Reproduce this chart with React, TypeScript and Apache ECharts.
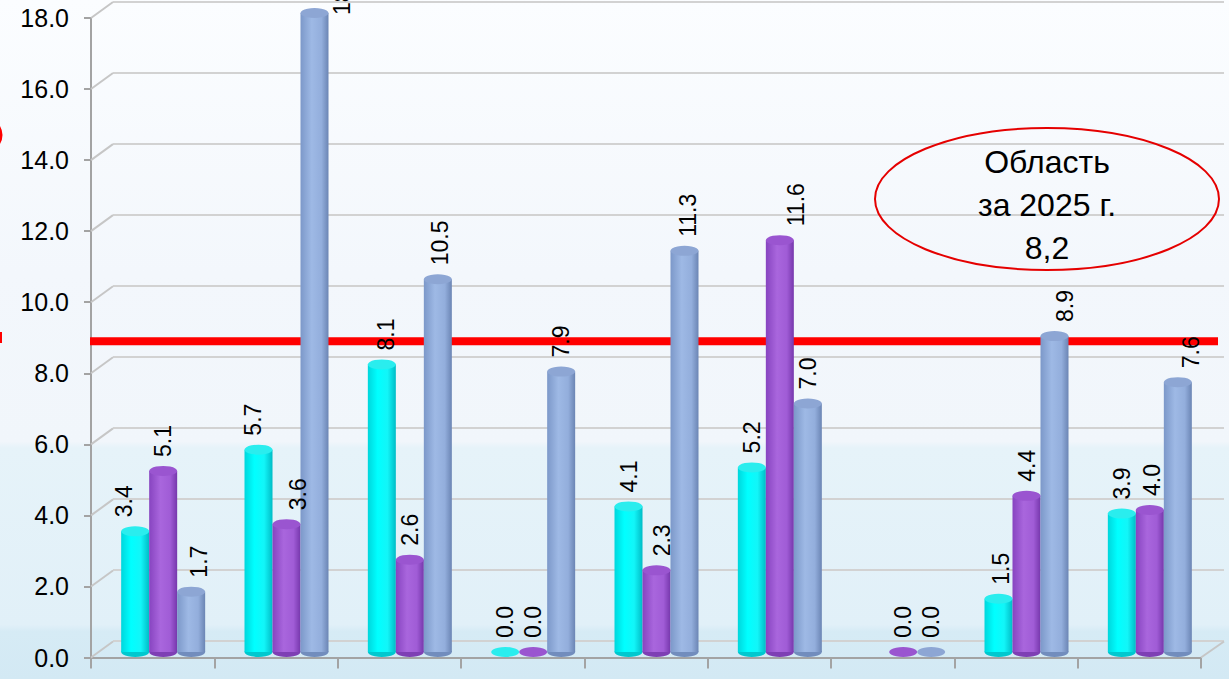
import React, { useEffect, useRef } from "react";
import * as echarts from "echarts";

const categories = ["1", "2", "3", "4", "5", "6", "7", "8", "9"];
const seriesNames = ["Ряд 1", "Ряд 2", "Ряд 3"];
const cyanValues: (number | null)[] = [3.4, 5.7, 8.1, 0.0, 4.1, 5.2, null, 1.5, 3.9];
const purpleValues: (number | null)[] = [5.1, 3.6, 2.6, 0.0, 2.3, 11.6, 0.0, 4.4, 4.0];
const blueValues: (number | null)[] = [1.7, 18.0, 10.5, 7.9, 11.3, 7.0, 0.0, 8.9, 7.6];
const yTicks = [0, 2, 4, 6, 8, 10, 12, 14, 16, 18];
const yMin = 0;
const yMax = 18;
const yInterval = 2;
const referenceLineValue = 8.9;
const annotationLines = ["Область", "за 2025 г.", "8,2"];

// sideways nudges (px) of individual value labels, as placed in the original
const labelNudges: number[][] = [
  [-11, -6, 4, 0, 0, 0, 0, 2, 0],
  [0, 11, 0, 0, 5, 16, 0, 0, 2],
  [8, 0, 2, 0, 4, 0, 0, 11, 13],
];

const FONT = "'Liberation Sans', Arial, sans-serif";

const grad = (stops: [number, string][]) =>
  new echarts.graphic.LinearGradient(
    0,
    0,
    1,
    0,
    stops.map(([offset, color]) => ({ offset, color }))
  );

const palettes = [
  {
    body: grad([
      [0, "#00D6DC"],
      [0.35, "#00FFFF"],
      [0.7, "#12F6F8"],
      [1, "#00BCC6"],
    ]),
    top: "#2AEDEE",
    bottom: "#00C8CF",
  },
  {
    body: grad([
      [0, "#8744C0"],
      [0.4, "#A966DD"],
      [0.75, "#A05CD6"],
      [1, "#7637AC"],
    ]),
    top: "#9A55D0",
    bottom: "#7E3FB4",
  },
  {
    body: grad([
      [0, "#7C98C9"],
      [0.4, "#9EB9E5"],
      [0.75, "#93AEDC"],
      [1, "#6B85B4"],
    ]),
    top: "#8DA6D4",
    bottom: "#728DBD",
  },
];

const allValues = [cyanValues, purpleValues, blueValues];
const CAT_GAP = "31.9%";

export default function App() {
  const ref = useRef<HTMLDivElement>(null);

  useEffect(() => {
    if (!ref.current) return;
    const chart = echarts.init(ref.current, null, { renderer: "svg" });

    const barSeries = allValues.map((vals, i) => ({
      type: "bar",
      name: seriesNames[i],
      xAxisIndex: 1,
      yAxisIndex: 1,
      barGap: "0%",
      barCategoryGap: CAT_GAP,
      z: 3,
      itemStyle: { color: palettes[i].body },
      label: {
        show: true,
        position: "top",
        distance: 14,
        rotate: 90,
        align: "left",
        verticalAlign: "middle",
        fontSize: 23,
        fontFamily: FONT,
        color: "#000",
        formatter: (p: any) => Number(p.value).toFixed(1),
      },
      data: vals.map((v, j) => {
        if (v === null) return null;
        if (v >= yMax) {
          return { value: v, label: { position: [42, 2] } };
        }
        const n = labelNudges[i][j];
        if (n) return { value: v, label: { offset: [0, n] } };
        return v;
      }),
    }));

    const topSeries = allValues.map((vals, i) => ({
      type: "pictorialBar",
      name: seriesNames[i] + " top",
      xAxisIndex: 1,
      yAxisIndex: 1,
      barGap: "0%",
      barCategoryGap: CAT_GAP,
      symbol: "circle",
      symbolSize: ["100%", 10],
      symbolPosition: "end",
      symbolOffset: [0, "-50%"],
      z: 4,
      itemStyle: { color: palettes[i].top },
      data: vals,
    }));

    const bottomSeries = allValues.map((vals, i) => ({
      type: "pictorialBar",
      name: seriesNames[i] + " bottom",
      xAxisIndex: 2,
      yAxisIndex: 1,
      barGap: "0%",
      barCategoryGap: CAT_GAP,
      symbol: "circle",
      symbolSize: ["100%", 10],
      symbolPosition: "start",
      symbolOffset: [0, "50%"],
      z: 2,
      itemStyle: { color: palettes[i].bottom },
      data: vals.map((v) => (v === null || v === 0 ? null : v)),
    }));

    const option: any = {
      animation: false,
      backgroundColor: "transparent",
      grid: [
        { left: 91, right: 28, top: 18, bottom: 21.5 },
        { left: 101.5, right: 17.5, top: 13, bottom: 27 },
        { left: 113, right: 5, top: 2, bottom: 38 },
        { left: 90, right: 11, top: 18, bottom: 21.5 },
      ],
      xAxis: [
        {
          type: "category",
          gridIndex: 0,
          data: categories,
          boundaryGap: true,
          axisLine: { show: true, lineStyle: { color: "#A3A3A3", width: 2 } },
          axisTick: {
            show: true,
            length: 11,
            interval: 0,
            lineStyle: { color: "#A3A3A3", width: 2 },
          },
          axisLabel: { show: false },
          splitLine: { show: false },
        },
        { type: "category", gridIndex: 1, data: categories, show: false },
        { type: "category", gridIndex: 1, data: categories, show: false },
        { type: "category", gridIndex: 2, data: categories, show: false },
        { type: "value", gridIndex: 3, min: 0, max: 1, show: false },
      ],
      yAxis: [
        {
          type: "value",
          gridIndex: 0,
          min: yMin,
          max: yMax,
          interval: yInterval,
          axisLine: { show: true, lineStyle: { color: "#A3A3A3", width: 2 } },
          axisTick: { show: true, length: 7, lineStyle: { color: "#A3A3A3", width: 2 } },
          axisLabel: {
            formatter: (v: number) => v.toFixed(1),
            fontSize: 25,
            fontFamily: FONT,
            color: "#000",
            margin: 22,
          },
          splitLine: { show: false },
        },
        { type: "value", gridIndex: 1, min: yMin, max: yMax, interval: yInterval, show: false },
        {
          type: "value",
          gridIndex: 2,
          min: yMin,
          max: yMax,
          interval: yInterval,
          axisLine: { show: false },
          axisTick: { show: false },
          axisLabel: { show: false },
          splitLine: { show: true, lineStyle: { color: "#D2D2D2", width: 2 } },
        },
        { type: "value", gridIndex: 3, min: yMin, max: yMax, show: false },
      ],
      series: [
        {
          type: "custom",
          name: "floor connectors",
          xAxisIndex: 0,
          yAxisIndex: 0,
          clip: false,
          silent: true,
          z: 1,
          data: yTicks.map((v) => [0, v]),
          renderItem: (params: any, api: any) => {
            const v = api.value(1);
            const p0 = api.coord([0, v]);
            const p1 = api.coord([1, v]);
            const half = (p1[0] - p0[0]) / 2;
            const x0 = p0[0] - half;
            const style = { stroke: "#C6C6C6", lineWidth: 2 };
            const children: any[] = [
              {
                type: "line",
                shape: { x1: x0, y1: p0[1], x2: x0 + 22, y2: p0[1] - 16 },
                style,
              },
            ];
            if (v === 0) {
              const pe = api.coord([categories.length - 1, 0]);
              const xe = pe[0] + half;
              children.push({
                type: "line",
                shape: { x1: xe, y1: pe[1], x2: xe + 23, y2: pe[1] - 16 },
                style,
              });
            }
            return { type: "group", children };
          },
        },
        {
          type: "line",
          name: "Область",
          xAxisIndex: 4,
          yAxisIndex: 3,
          symbol: "none",
          silent: true,
          z: 2.5,
          lineStyle: { color: "#FF0000", width: 8 },
          data: [
            [0, referenceLineValue],
            [1, referenceLineValue],
          ],
        },
        ...bottomSeries,
        ...barSeries,
        ...topSeries,
      ],
      graphic: [
        {
          type: "ellipse",
          z: 20,
          shape: { cx: 1047, cy: 199, rx: 172, ry: 71 },
          style: { fill: "rgba(0,0,0,0)", stroke: "#E50000", lineWidth: 2 },
        },
        {
          type: "text",
          z: 21,
          x: 1047,
          y: 205,
          style: {
            text: annotationLines.join("\n"),
            align: "center",
            verticalAlign: "middle",
            fontSize: 32,
            lineHeight: 43,
            fontFamily: FONT,
            fill: "#000",
          },
        },
        {
          type: "ellipse",
          z: 20,
          shape: { cx: -62, cy: 135, rx: 63, ry: 30 },
          style: { fill: "rgba(0,0,0,0)", stroke: "#FF0000", lineWidth: 3 },
        },
        {
          type: "rect",
          z: 20,
          shape: { x: 0, y: 332, width: 2, height: 11 },
          style: { fill: "#FF0000" },
        },
      ],
    };

    chart.setOption(option);
    return () => chart.dispose();
  }, []);

  return (
    <div
      style={{
        position: "fixed",
        left: 0,
        top: 0,
        width: 1229,
        height: 679,
        background:
          "linear-gradient(180deg, #FBFDFF 0%, #F3F7FC 40%, #F1F6FB 65%, #E6F3F9 66%, #E1F0F8 92%, #D6EBF5 93%, #D3E9F4 100%)",
      }}
    >
      <div ref={ref} style={{ width: 1229, height: 679 }} />
    </div>
  );
}
